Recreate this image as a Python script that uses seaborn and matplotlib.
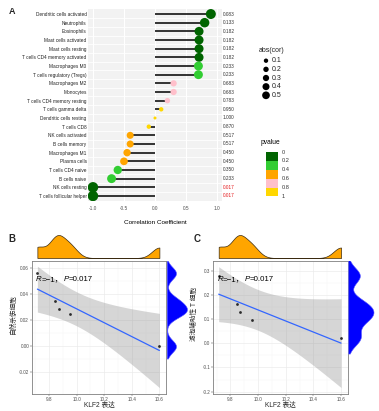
import numpy as np
import pandas as pd
import matplotlib
matplotlib.use("Agg")
import matplotlib.pyplot as plt
import matplotlib.transforms as mtransforms
from matplotlib.patches import Rectangle
from matplotlib.offsetbox import TextArea, HPacker, AnchoredOffsetbox
import seaborn as sns

# ---------------- data ----------------
cells = ["Dendritic cells activated", "Neutrophils", "Eosinophils", "Mast cells activated",
         "Mast cells resting", "T cells CD4 memory activated", "Macrophages M0",
         "T cells regulatory (Tregs)", "Macrophages M2", "Monocytes",
         "T cells CD4 memory resting", "T cells gamma delta", "Dendritic cells resting",
         "T cells CD8", "NK cells activated", "B cells memory", "Macrophages M1",
         "Plasma cells", "T cells CD4 naive", "B cells naive", "NK cells resting",
         "T cells follicular helper"]
cor = [0.90, 0.80, 0.71, 0.71, 0.71, 0.71, 0.70, 0.70, 0.30, 0.30, 0.20, 0.10, 0.0,
       -0.10, -0.40, -0.40, -0.45, -0.50, -0.60, -0.70, -1.0, -1.0]
pval = [0.083, 0.133, 0.182, 0.182, 0.182, 0.182, 0.233, 0.233, 0.683, 0.683, 0.783,
        0.950, 1.000, 0.870, 0.517, 0.517, 0.450, 0.450, 0.350, 0.233, 0.017, 0.017]

p_breaks = [0, 0.2, 0.4, 0.6, 0.8, 1]
p_break_labels = ["0", "0.2", "0.4", "0.6", "0.8", "1"]
p_colors = ["#006400", "#32CD32", "#FFA500", "#FFC0CB", "#FFD700"]
size_legend_vals = [0.1, 0.2, 0.3, 0.4, 0.5]

klf2 = [9.715, 9.845, 9.870, 9.955, 10.600]
nk_resting = [0.0562, 0.0348, 0.0285, 0.0251, 0.0000]
tfh = [0.281, 0.165, 0.130, 0.098, 0.023]

# ---------------- style ----------------
sns.set_theme(style="white")
plt.rcParams["font.family"] = ["Liberation Sans", "Noto Sans CJK SC"]
plt.rcParams["axes.unicode_minus"] = False

W, H = 379, 411
fig = plt.figure(figsize=(W / 100, H / 100), dpi=100)
fig.patch.set_facecolor("white")


def box(l, t, r, b):
    return [l / W, 1 - b / H, (r - l) / W, (b - t) / H]


SMIN, SMAX = 4.7, 57.0


def pbin(p):
    for i in range(5):
        if p < p_breaks[i + 1] or i == 4:
            return i


# ---------------- panel A ----------------
df = pd.DataFrame({"cell": cells, "cor": cor, "p": pval})
df["row"] = np.arange(len(df))
df["abscor"] = df["cor"].abs()
df["pbin"] = [p_colors[pbin(p)] for p in df["p"]]

axA = fig.add_axes(box(88, 9, 222, 201))
axA.set_facecolor("#F2F2F2")
for r in np.arange(len(df) - 1) + 0.5:
    axA.axhline(r, color="white", lw=0.6, zorder=0.5)
for xv in [-1, -0.5, 0, 0.5, 1]:
    axA.axvline(xv, color="white", lw=0.8, zorder=0.5)
axA.hlines(df["row"], 0, df["cor"], color="black", lw=1.1, zorder=2)
sns.scatterplot(data=df, x="cor", y="row", hue="pbin",
                palette={c: c for c in p_colors}, size="abscor",
                sizes=(SMIN, SMAX), size_norm=(0, 1), legend=False,
                edgecolor="none", linewidth=0, ax=axA, zorder=3)
axA.set_xlim(-1.08, 1.08)
axA.set_ylim(len(df) - 0.42, -0.58)
axA.set_yticks(df["row"])
axA.set_yticklabels(df["cell"], fontsize=3.4, color="#222222")
axA.set_xticks([-1, -0.5, 0, 0.5, 1])
axA.set_xticklabels(["-1.0", "-0.5", "0.0", "0.5", "1.0"], fontsize=3.4, color="#4D4D4D")
axA.tick_params(axis="y", length=0, pad=1)
axA.tick_params(axis="x", length=1.2, width=0.3, color="#555555", pad=2.5)
for s in axA.spines.values():
    s.set_visible(False)
axA.set_ylabel("")
axA.set_xlabel("Correlation Coefficient", fontsize=4.6, color="black", va="center")
axA.xaxis.set_label_coords(0.5, -(222 - 201) / 192)
trans = mtransforms.blended_transform_factory(axA.transAxes, axA.transData)
for i, p in enumerate(df["p"]):
    axA.text(1.008, i, f"{p:.3f}", transform=trans, ha="left", va="center",
             fontsize=3.4, color="#E41A1C" if p < 0.05 else "#333333", clip_on=False)

# ---------------- overlay for legends / letters ----------------
ov = fig.add_axes([0, 0, 1, 1], zorder=10)
ov.set_xlim(0, W)
ov.set_ylim(H, 0)
ov.axis("off")
ov.patch.set_alpha(0)

ov.text(12, 12, "A", fontsize=6.5, fontweight="bold", ha="center", va="center")
ov.text(12, 239, "B", fontsize=7, fontweight="bold", ha="center", va="center")
ov.text(197, 239, "C", fontsize=7, fontweight="bold", ha="center", va="center")

# size legend
ov.text(259, 50, "abs(cor)", fontsize=5, ha="left", va="center", color="#222222")
for k, v in enumerate(size_legend_vals):
    yy = 60.7 + k * 8.65
    ov.scatter([266], [yy], s=SMIN + (SMAX - SMIN) * v, color="black", edgecolor="none")
    ov.text(271.5, yy, f"{v}", fontsize=5, ha="left", va="center", color="#222222")

# pvalue legend
ov.text(261, 142, "pvalue", fontsize=4.8, ha="left", va="center", color="black")
for k, c in enumerate(p_colors):
    y0 = 152 + k * 8.9
    ov.add_patch(Rectangle((266, y0), 12.3, 8.9, facecolor=c, edgecolor="none"))
for k, lab in enumerate(p_break_labels):
    ov.text(281.7, 152 + k * 8.9, lab, fontsize=4.1, ha="left", va="center", color="#333333")


# ---------------- panels B / C ----------------
def scatter_panel(main_box, top_box, right_box, yvals, ylim, yticks, yticklabels, ylab):
    ax = fig.add_axes(box(*main_box))
    axt = fig.add_axes(box(*top_box))
    axr = fig.add_axes(box(*right_box))
    x = np.asarray(klf2)
    y = np.asarray(yvals)
    # analytic 95% confidence band of the linear fit (as geom_smooth(method="lm"))
    n = len(x)
    b1, b0 = np.polyfit(x, y, 1)
    resid = y - (b0 + b1 * x)
    s_err = np.sqrt(np.sum(resid ** 2) / (n - 2))
    xg = np.linspace(x.min(), x.max(), 100)
    se = s_err * np.sqrt(1 / n + (xg - x.mean()) ** 2 / np.sum((x - x.mean()) ** 2))
    tcrit = 3.182446
    yf = b0 + b1 * xg
    ax.fill_between(xg, yf - tcrit * se, yf + tcrit * se, color="#999999", alpha=0.4,
                    lw=0, zorder=2)
    sns.regplot(x=x, y=y, ci=None, ax=ax, truncate=True,
                scatter_kws=dict(s=4, color="black", zorder=4, linewidths=0),
                line_kws=dict(color="#3366FF", lw=0.9, zorder=3))
    ax.set_xlim(9.676, 10.648)
    ax.set_ylim(*ylim)
    ax.set_xticks([9.8, 10.0, 10.2, 10.4, 10.6])
    ax.set_xticklabels(["9.8", "10.0", "10.2", "10.4", "10.6"], fontsize=3.3, color="#4D4D4D")
    ax.set_yticks(yticks)
    ax.set_yticklabels(yticklabels, fontsize=3.3, color="#4D4D4D")
    ax.set_xticks([9.7, 9.9, 10.1, 10.3, 10.5], minor=True)
    ym = [(yticks[i] + yticks[i + 1]) / 2 for i in range(len(yticks) - 1)]
    ax.set_yticks(ym, minor=True)
    ax.grid(which="major", color="#EBEBEB", lw=0.5, zorder=0)
    ax.grid(which="minor", color="#F4F4F4", lw=0.3, zorder=0)
    ax.set_axisbelow(True)
    ax.tick_params(which="major", length=1.2, width=0.3, color="#333333", pad=0.8,
                   bottom=True, left=True)
    ax.tick_params(which="minor", length=0)
    for s in ax.spines.values():
        s.set_color("#7F7F7F")
        s.set_linewidth(0.6)
    hpx = main_box[3] - main_box[1]
    wpx = main_box[2] - main_box[0]
    ax.set_xlabel("KLF2 表达", fontsize=4.8, va="center")
    ax.xaxis.set_label_coords(0.5, -(405 - main_box[3]) / hpx)
    ax.set_ylabel(ylab, fontsize=4.8, va="center")
    ax.yaxis.set_label_coords(-19 / wpx, (main_box[3] - 314) / hpx)

    tp = dict(fontsize=5.7, color="black")
    tpi = dict(fontsize=5.7, color="black", style="italic")
    pack = HPacker(children=[TextArea("R", textprops=tpi), TextArea("=−1，", textprops=tp),
                             TextArea("P", textprops=tpi), TextArea("=0.017", textprops=tp)],
                   align="baseline", pad=0, sep=0)
    anch = AnchoredOffsetbox(loc="center left", child=pack, pad=0, borderpad=0,
                             frameon=False, bbox_to_anchor=(0.03, 0.86),
                             bbox_transform=ax.transAxes)
    anch.set_zorder(6)
    ax.add_artist(anch)

    sns.kdeplot(x=x, ax=axt, fill=True, cut=0, bw_method=0.154, facecolor="#FFA500",
                edgecolor="#3A2A10", linewidth=0.5)
    axt.set_xlim(ax.get_xlim())
    axt.margins(y=0)
    axt.set_ylim(bottom=0)
    axt.axis("off")

    ysd = np.std(y, ddof=1)
    q1, q3 = np.percentile(y, [25, 75])
    bw = 0.9 * min(ysd, (q3 - q1) / 1.34) * n ** (-0.2)
    sns.kdeplot(y=y, ax=axr, fill=True, cut=2, bw_method=bw / ysd, facecolor="#0000FF",
                edgecolor="#5A5AFF", linewidth=0.4)
    axr.set_ylim(*ylim)
    axr.margins(x=0)
    axr.set_xlim(left=0)
    axr.axis("off")
    return ax


scatter_panel((32, 260.7, 166, 394), (32, 235, 166, 258), (166.7, 260.7, 187, 394),
              nk_resting, (-0.0367, 0.0658), [-0.02, 0.0, 0.02, 0.04, 0.06],
              ["-0.02", "0.00", "0.02", "0.04", "0.06"], "自然杀伤细胞")
scatter_panel((213.3, 260.7, 347.7, 394), (213.3, 235, 347.7, 258), (348.3, 260.7, 373.5, 394),
              tfh, (-0.21, 0.343), [-0.2, -0.1, 0.0, 0.1, 0.2, 0.3],
              ["-0.2", "-0.1", "0.0", "0.1", "0.2", "0.3"], "滤泡辅助性 T 细胞")

fig.savefig("out.png", dpi=100, facecolor="white")
